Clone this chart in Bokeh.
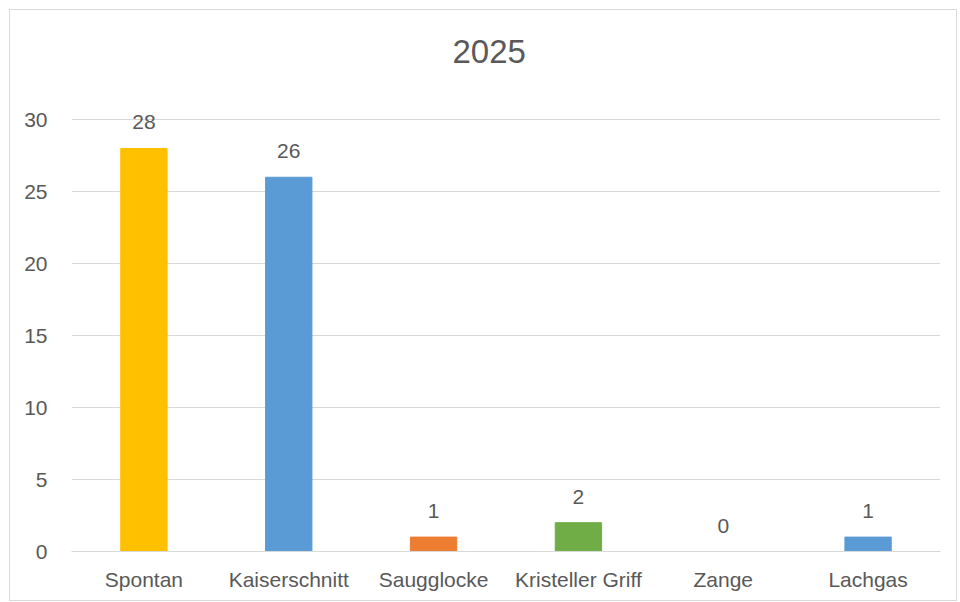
from bokeh.plotting import figure
from bokeh.models import ColumnDataSource, FixedTicker
from bokeh.core.properties import value
from bokeh.embed import file_html
from bokeh.resources import INLINE

categories = ["Spontan", "Kaiserschnitt", "Saugglocke", "Kristeller Griff", "Zange", "Lachgas"]
values = [28, 26, 1, 2, 0, 1]
colors = ["#FFC000", "#5B9BD5", "#ED7D31", "#70AD47", "#5B9BD5", "#5B9BD5"]
y_ticks = [0, 5, 10, 15, 20, 25, 30]
title_text = "2025"

FONT = "Liberation Sans"
TXT = "#595959"
GRID = "#d9d9d9"

src = ColumnDataSource(dict(cat=categories, val=values, color=colors,
                            lab=[str(v) for v in values]))

p = figure(x_range=categories, y_range=(0, 33), width=948, height=592,
           output_backend="svg", toolbar_location=None, title=title_text,
           min_border_left=61, min_border_right=18, min_border_top=66,
           min_border_bottom=51)
p.styles = {"border": "1px solid #d9d9d9", "margin-left": "9px", "margin-top": "9px"}

p.vbar(x="cat", top="val", width=0.32, color="color", source=src)
p.text(x="cat", y="val", text="lab", source=src, text_align="center",
       text_baseline="middle", y_offset=-26, text_color=TXT,
       text_font=value(FONT), text_font_size="21px")

p.title.align = "left"
p.title.text_font = FONT
p.title.text_font_size = "33px"
p.title.text_font_style = "normal"
p.title.text_color = TXT
p.title.standoff = 28
p.title.offset = 381

p.outline_line_color = None
p.xgrid.grid_line_color = None
p.ygrid.grid_line_color = GRID
p.ygrid.grid_line_width = 1
p.yaxis.ticker = FixedTicker(ticks=y_ticks)

for ax in (p.xaxis, p.yaxis):
    ax.major_tick_line_color = None
    ax.minor_tick_line_color = None
    ax.major_label_text_font = FONT
    ax.major_label_text_font_size = "21px"
    ax.major_label_text_color = TXT
p.yaxis.axis_line_color = None
p.xaxis.axis_line_color = GRID
p.yaxis.major_label_standoff = 18
p.xaxis.major_label_standoff = 10

open("out.html", "w").write(file_html(p, INLINE))
